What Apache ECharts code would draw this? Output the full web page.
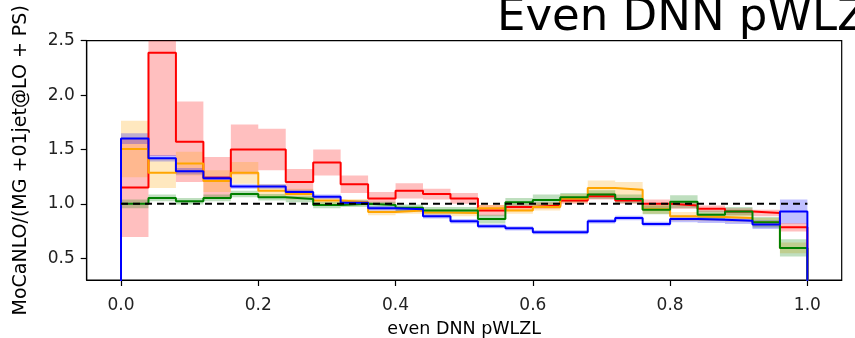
<!DOCTYPE html>
<html>
<head>
<meta charset="utf-8">
<script src="https://cdn.jsdelivr.net/npm/echarts@6/dist/echarts.min.js"></script>
<style>
html,body{margin:0;padding:0;background:#fff;}
#chart{width:855px;height:338px;}
</style>
</head>
<body>
<div id="chart"></div>
<script>
// Bin edges (25 bins of width 0.04 from 0 to 1)
const binEdges = [0.00,0.04,0.08,0.12,0.16,0.20,0.24,0.28,0.32,0.36,0.40,0.44,0.48,0.52,0.56,0.60,0.64,0.68,0.72,0.76,0.80,0.84,0.88,0.92,0.96,1.00];

const redVals = [1.15,2.39,1.57,1.24,1.50,1.50,1.20,1.38,1.18,1.05,1.12,1.09,1.05,0.94,0.97,0.985,1.03,1.07,1.03,1.00,0.985,0.955,0.93,0.915,0.785];
const redErr  = [0.455,0.95,0.37,0.19,0.23,0.19,0.12,0.12,0.08,0.06,0.07,0.05,0.05,0.05,0.03,0.03,0.03,0.03,0.03,0.04,0.03,0.03,0.03,0.03,0.04];

const orangeVals = [1.505,1.285,1.37,1.21,1.285,1.12,1.09,1.03,1.015,0.925,0.94,0.92,0.915,0.96,0.94,0.97,1.05,1.145,1.13,0.95,0.885,0.88,0.87,0.83,0.595];
const orangeErr  = [0.26,0.14,0.11,0.10,0.10,0.06,0.05,0.04,0.03,0.03,0.03,0.03,0.03,0.03,0.03,0.03,0.04,0.07,0.07,0.04,0.04,0.04,0.04,0.04,0.05];

const greenVals = [1.00,1.055,1.025,1.055,1.09,1.06,1.045,0.99,1.00,0.99,0.965,0.94,0.94,0.86,1.015,1.035,1.06,1.085,1.045,0.945,1.02,0.90,0.93,0.83,0.595];
const greenErr  = [0.04,0.03,0.03,0.03,0.03,0.03,0.03,0.03,0.03,0.03,0.03,0.03,0.03,0.04,0.04,0.05,0.04,0.04,0.04,0.04,0.06,0.04,0.04,0.05,0.08];

const blueVals = [1.60,1.42,1.30,1.235,1.16,1.16,1.11,1.065,1.01,0.96,0.95,0.885,0.84,0.795,0.775,0.74,0.74,0.84,0.87,0.815,0.86,0.855,0.845,0.81,0.93];
const blueErr  = [0.05,0.03,0.03,0.02,0.02,0.02,0.02,0.02,0.02,0.02,0.02,0.02,0.02,0.02,0.02,0.02,0.02,0.02,0.02,0.02,0.03,0.03,0.03,0.04,0.11];

const refLine = [[0,1],[1,1]];

const xTicks = [0.0,0.2,0.4,0.6,0.8,1.0];
const yTicks = [0.5,1.0,1.5,2.0,2.5];

const seriesDefs = [
  {name:'red', vals:redVals, err:redErr, line:'#ff0000', band:'rgba(255,0,0,0.25)'},
  {name:'orange', vals:orangeVals, err:orangeErr, line:'#ffa500', band:'rgba(255,165,0,0.25)'},
  {name:'green', vals:greenVals, err:greenErr, line:'#008000', band:'rgba(0,128,0,0.25)'},
  {name:'blue', vals:blueVals, err:blueErr, line:'#0000ff', band:'rgba(0,0,255,0.25)'}
];

function stepData(vals){
  const d = [[binEdges[0], 0]];
  for (let i = 0; i < vals.length; i++){
    d.push([binEdges[i], vals[i]]);
    d.push([binEdges[i+1], vals[i]]);
  }
  d.push([binEdges[binEdges.length-1], 0]);
  return d;
}

function bandSeries(def){
  return {
    type:'custom',
    name: def.name + ' band',
    clip: true,
    silent: true,
    animation: false,
    data: [[0, 1]],
    encode: {x: 0, y: 1},
    renderItem: function(params, api){
      const upper = [], lower = [];
      for (let i = 0; i < def.vals.length; i++){
        const hi = def.vals[i] + def.err[i];
        const lo = def.vals[i] - def.err[i];
        upper.push(api.coord([binEdges[i], hi]));
        upper.push(api.coord([binEdges[i+1], hi]));
        lower.push(api.coord([binEdges[i], lo]));
        lower.push(api.coord([binEdges[i+1], lo]));
      }
      const pts = upper.concat(lower.reverse());
      return {type:'polygon', shape:{points: pts}, style:{fill: def.band, stroke: null}};
    }
  };
}

function lineSeries(def){
  return {
    type:'line',
    name: def.name,
    data: stepData(def.vals),
    showSymbol:false,
    symbol:'none',
    clip:true,
    silent:true,
    animation:false,
    lineStyle:{color: def.line, width: 2},
    itemStyle:{color: def.line}
  };
}

const series = [];
seriesDefs.forEach(d => series.push(bandSeries(d)));
seriesDefs.forEach(d => series.push(lineSeries(d)));
series.push({
  type:'line', name:'ref', data: refLine, showSymbol:false, symbol:'none', silent:true, animation:false,
  lineStyle:{color:'#000', width:2, type:[7,5]}, z: 3
});

const chart = echarts.init(document.getElementById('chart'), null, {renderer:'canvas'});
chart.setOption({
  animation:false,
  backgroundColor:'#fff',
  title:{
    text:'Even DNN pWLZL',
    left: 497, top: -4, padding: 0,
    textStyle:{fontFamily:'DejaVu Sans', fontSize:45, fontWeight:'normal', color:'#000'}
  },
  grid:{left:86.7, right:13.3, top:40.7, bottom:58, show:true, borderColor:'#000', borderWidth:1.2,
    backgroundColor:'transparent', containLabel:false, outerBoundsMode:'none'},
  xAxis:{
    type:'value', min:-0.05, max:1.05,
    name:'even DNN pWLZL', nameLocation:'middle', nameGap:40,
    nameTextStyle:{fontFamily:'DejaVu Sans', fontSize:17.5, color:'#000'},
    axisLine:{show:true, onZero:false, lineStyle:{color:'#000', width:1.2}},
    axisTick:{show:true, length:6, lineStyle:{color:'#000', width:1.2}, customValues: xTicks},
    axisLabel:{fontFamily:'DejaVu Sans', fontSize:17, color:'#222', margin:17, customValues: xTicks,
      formatter: v => v.toFixed(1)},
    splitLine:{show:false}
  },
  yAxis:{
    type:'value', min:0.3, max:2.5,
    name:'MoCaNLO/(MG +01jet@LO + PS)', nameLocation:'middle', nameGap:56,
    nameTextStyle:{fontFamily:'DejaVu Sans', fontSize:19, color:'#000'},
    axisLine:{show:true, onZero:false, lineStyle:{color:'#000', width:1.2}},
    axisTick:{show:true, length:6, lineStyle:{color:'#000', width:1.2}, customValues: yTicks},
    axisLabel:{fontFamily:'DejaVu Sans', fontSize:17, color:'#222', margin:12, customValues: yTicks,
      formatter: v => v.toFixed(1)},
    splitLine:{show:false}
  },
  series: series
});
</script>
</body>
</html>
